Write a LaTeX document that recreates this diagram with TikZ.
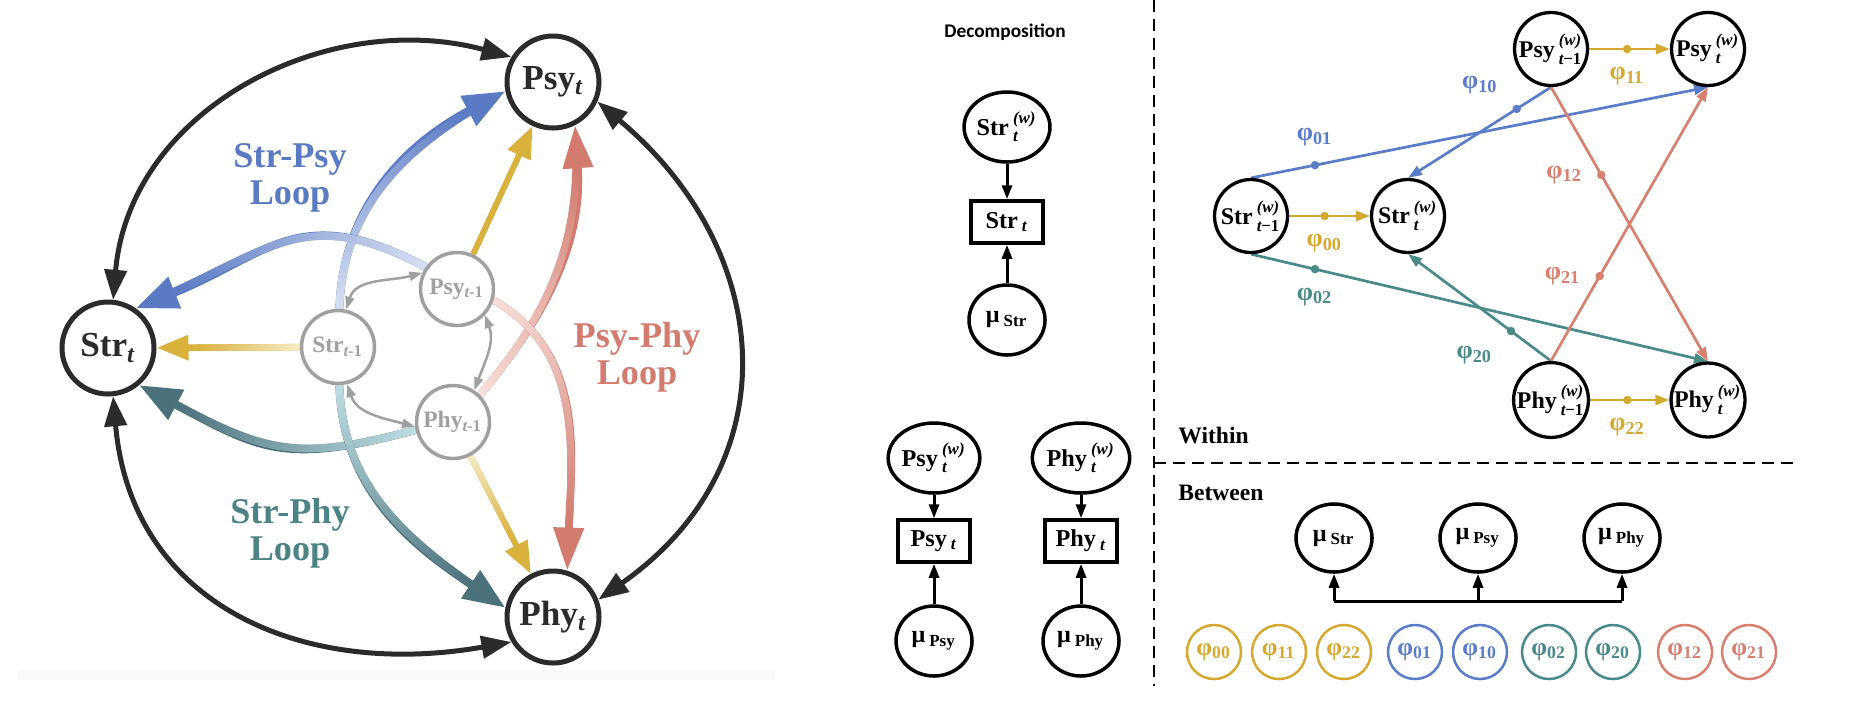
\documentclass[tikz,border=0pt]{standalone}
\usepackage{amsmath}
\usepackage{fontspec}
\setmainfont{Liberation Serif}
\newfontfamily\decofont{Carlito}
\usetikzlibrary{arrows.meta,shapes.geometric,decorations.markings}
\definecolor{LoopInk}{HTML}{2B2B2B}
\definecolor{LagGray}{HTML}{A0A0A0}
\definecolor{GoldC}{HTML}{D9B23E}
\definecolor{GoldL}{HTML}{F6EDC8}
\definecolor{BlueC}{HTML}{5A7AC3}
\definecolor{BlueL}{HTML}{D8E0F2}
\definecolor{TealC}{HTML}{4B717A}
\definecolor{TealL}{HTML}{BFDFE4}
\definecolor{TealT}{HTML}{4C8385}
\definecolor{RedC}{HTML}{D27B6E}
\definecolor{RedL}{HTML}{F7E1DD}
\definecolor{GoldW}{HTML}{D5A92F}
\definecolor{BlueW}{HTML}{5B7DC8}
\definecolor{TealW}{HTML}{4A8A88}
\definecolor{RedW}{HTML}{D8806F}
\pgfdeclarelayer{back}
\pgfsetlayers{back,main}

\begin{document}
\begin{tikzpicture}[x=0.1mm, y=0.1mm,
  bigvar/.style={circle, draw=LoopInk, line width=0.5mm, minimum size=9.2mm,
                 inner sep=0pt, fill=white, text=LoopInk,
                 font=\fontsize{10}{12}\selectfont\bfseries},
  lagvar/.style={circle, draw=LagGray, line width=0.35mm, minimum size=7.3mm,
                 inner sep=0pt, fill=white, text=LagGray,
                 font=\fontsize{6.7}{8}\selectfont\bfseries},
  looplab/.style={align=center, font=\fontsize{10.3}{10.5}\selectfont\bfseries},
  bigarc/.style={draw=LoopInk, line width=0.5mm,
                 {Triangle[length=3mm,width=2.2mm]}-{Triangle[length=3mm,width=2.2mm]}},
  lagarc/.style={draw=LagGray, line width=0.25mm,
                 {Triangle[length=1.3mm,width=0.9mm]}-{Triangle[length=1.3mm,width=0.9mm]}},
  loopfade/.style n args={4}{draw=#2, line width=#3, -{Triangle[#4]},
    postaction={decorate, decoration={markings,
      mark=between positions 0 and -4mm step 0.4pt with {%
        \pgfmathsetmacro\fadepct{min(100,100*\pgfkeysvalueof{/pgf/decoration/mark info/distance from start}/(\pgfdecoratedpathlength-11pt))}%
        \fill[#2!\fadepct!#1] (0,0) circle (#3/2);}}}},
  wvar/.style={circle, draw=black, line width=0.33mm, minimum size=7.3mm,
               inner sep=0pt, fill=white, font=\fontsize{6.8}{8}\selectfont\bfseries},
  wlink/.style={line width=0.27mm, -{Triangle[length=1.4mm,width=1mm]}},
  wdot/.style={circle, fill, inner sep=0pt, minimum size=0.85mm},
  philab/.style={font=\fontsize{7.4}{8}\selectfont\bfseries},
  decvar/.style={ellipse, draw=black, line width=0.35mm, minimum width=7.6mm,
                 minimum height=7mm, inner sep=0pt, fill=white,
                 font=\fontsize{6.9}{8}\selectfont\bfseries},
  obsbox/.style={rectangle, draw=black, line width=0.35mm, minimum width=7.2mm,
                 minimum height=4.2mm, inner sep=0pt, fill=white,
                 font=\fontsize{6.9}{8}\selectfont\bfseries},
  declink/.style={line width=0.3mm, -{Triangle[length=1.4mm,width=1mm]}},
  phicirc/.style={circle, line width=0.25mm, minimum size=5.4mm, inner sep=0pt,
                  font=\fontsize{7.2}{8}\selectfont\bfseries},
  panellab/.style={anchor=west, font=\fontsize{6.7}{8}\selectfont\bfseries},
  sepline/.style={line width=0.25mm, dash pattern=on 1.2mm off 0.7mm}
]
\useasboundingbox (0,0) rectangle (1870,708);
\fill[gray!5] (18,28) rectangle (775,38);

% cross-lagged loops
\node[bigvar] (StrT) at (108,360) {Str$_{\textit{t}}$};
\node[bigvar] (PsyT) at (553,626) {Psy$_{\textit{t}}$};
\node[bigvar] (PhyT) at (553,91) {Phy$_{\textit{t}}$};
\node[lagvar] (StrL) at (338,361) {Str$_{\textit{t}\text{-1}}$};
\node[lagvar] (PsyL) at (457,419) {Psy$_{\textit{t}\text{-1}}$};
\node[lagvar] (PhyL) at (453,286) {Phy$_{\textit{t}\text{-1}}$};

\node[looplab, text=BlueC] (labSP) at (290,530) {Str-Psy\\Loop};
\node[looplab, text=TealT] (labSH) at (290,175) {Str-Phy\\Loop};
\node[looplab, text=RedC] (labPH) at (637,351) {Psy-Phy\\Loop};

\begin{pgfonlayer}{back}
\draw[bigarc] (StrT.84) to[out=85, in=165, looseness=1.05] (PsyT.149);
\draw[bigarc] (PsyT.-24) to[out=-40, in=35, looseness=1.2] (PhyT.21);
\draw[bigarc] (StrT.-84) to[out=-85, in=190, looseness=1.15] (PhyT.211);
\draw[loopfade={BlueL}{BlueC}{0.8mm}{length=4.2mm,width=3.2mm}]
  (StrL.88) to[out=88, in=208] (PsyT.191);
\draw[loopfade={BlueL}{BlueC}{0.8mm}{length=4.2mm,width=3.2mm}]
  (PsyL.145) to[out=152, in=22, looseness=1.25] (StrT.55);
\draw[loopfade={TealL}{TealC}{0.8mm}{length=4.2mm,width=3.2mm}]
  (PhyL.192) to[out=195, in=-28, looseness=1.25] (StrT.-50);
\draw[loopfade={TealL}{TealC}{0.8mm}{length=4.2mm,width=3.2mm}]
  (StrL.-88) to[out=-88, in=146] (PhyT.169);
\draw[loopfade={RedL}{RedC}{0.75mm}{length=4.3mm,width=2.9mm}]
  (PhyL.45) to[out=50, in=-86] (PsyT.-63);
\draw[loopfade={RedL}{RedC}{0.75mm}{length=4.3mm,width=2.9mm}]
  (PsyL.-17) to[out=-30, in=88] (PhyT.73);
\draw[loopfade={GoldL}{GoldC}{0.65mm}{length=3.2mm,width=2.4mm}] (StrL) -- (StrT);
\draw[loopfade={GoldL}{GoldC}{0.6mm}{length=3.2mm,width=2.4mm}] (PhyL) -- (PhyT);
\draw[draw=GoldC, line width=0.6mm, -{Triangle[length=3.2mm,width=2.4mm]}] (PsyL) -- (PsyT);
\draw[lagarc] (StrL.78) to[out=72, in=195] (PsyL.155);
\draw[lagarc] (StrL.-76) to[out=-72, in=165] (PhyL.187);
\draw[lagarc] (PsyL.-43) to[out=-70, in=70] (PhyL.56);
\end{pgfonlayer}

% decomposition
\node[font=\decofont\fontsize{5.5}{6}\selectfont\bfseries] (dectitle) at (1005,676) {Decomposition};
\node[decvar] (dS) at (1007,581) {Str\,$^{\textit{(w)}}_{\textit{t}}$};
\node[obsbox] (oS) at (1007,486) {Str\,$_{\textit{t}}$};
\node[decvar] (mS) at (1007,388) {μ\,$_{\text{Str}}$};
\node[decvar] (dP) at (934,250) {Psy\,$^{\textit{(w)}}_{\textit{t}}$};
\node[obsbox] (oP) at (934,167) {Psy\,$_{\textit{t}}$};
\node[decvar] (mP) at (934,67) {μ\,$_{\text{Psy}}$};
\node[decvar] (dH) at (1081,250) {Phy\,$^{\textit{(w)}}_{\textit{t}}$};
\node[obsbox] (oH) at (1081,167) {Phy\,$_{\textit{t}}$};
\node[decvar] (mH) at (1081,67) {μ\,$_{\text{Phy}}$};
\foreach \v in {S,P,H} {
  \draw[declink] (d\v) -- (o\v);
  \draw[declink] (m\v) -- (o\v);
}

\draw[sepline] (1154,708) -- (1154,22);
\draw[sepline] (1154,245) -- (1795,245);

% within
\node[panellab] (within) at (1166,273) {Within};
\node[wvar] (SL) at (1251,492) {Str\,$^{\textit{(w)}}_{\textit{t}\text{−1}}$};
\node[wvar] (ST) at (1408,492) {Str\,$^{\textit{(w)}}_{\textit{t}}$};
\node[wvar] (PL) at (1551,659) {Psy\,$^{\textit{(w)}}_{\textit{t}\text{−1}}$};
\node[wvar] (PT) at (1708,659) {Psy\,$^{\textit{(w)}}_{\textit{t}}$};
\node[wvar] (HL) at (1551,308) {Phy\,$^{\textit{(w)}}_{\textit{t}\text{−1}}$};
\node[wvar] (HT) at (1708,308) {Phy\,$^{\textit{(w)}}_{\textit{t}}$};

\begin{pgfonlayer}{back}
\draw[wlink, GoldW] (SL) -- node[wdot, pos=.44, label={[philab, text=GoldW]below:φ$_{\text{00}}$}] {} (ST);
\draw[wlink, GoldW] (PL) -- node[wdot, pos=.47, label={[philab, text=GoldW]below:φ$_{\text{11}}$}] {} (PT);
\draw[wlink, GoldW] (HL) -- node[wdot, pos=.47, label={[philab, text=GoldW]below:φ$_{\text{22}}$}] {} (HT);
\draw[wlink, BlueW] (SL.north) -- node[wdot, pos=.14, label={[philab, text=BlueW]above:φ$_{\text{01}}$}] {} (PT.south);
\draw[wlink, BlueW] (PL.south) -- node[wdot, pos=.24, label={[philab, text=BlueW]165:φ$_{\text{10}}$}] {} (ST.north);
\draw[wlink, TealW] (SL.south) -- node[wdot, pos=.14, label={[philab, text=TealW]below:φ$_{\text{02}}$}] {} (HT.north);
\draw[wlink, TealW] (HL.north) -- node[wdot, pos=.28, label={[philab, text=TealW]205:φ$_{\text{20}}$}] {} (ST.south);
\draw[wlink, RedW] (PL.south) -- node[wdot, pos=.32, label={[philab, text=RedW]left:φ$_{\text{12}}$}] {} (HT.north);
\draw[wlink, RedW] (HL.north) -- node[wdot, pos=.31, label={[philab, text=RedW]left:φ$_{\text{21}}$}] {} (PT.south);
\end{pgfonlayer}

% between
\node[panellab] (between) at (1166,215) {Between};
\node[decvar, minimum height=6.8mm] (bS) at (1334,170) {μ\,$_{\text{Str}}$};
\node[decvar, minimum height=6.8mm] (bP) at (1478,170) {μ\,$_{\text{Psy}}$};
\node[decvar, minimum height=6.8mm] (bH) at (1622,170) {μ\,$_{\text{Phy}}$};
\coordinate (bar) at (1478,107);
\draw[line width=0.3mm] (bar -| bS) -- (bar -| bH);
\foreach \m in {bS,bP,bH}
  \draw[declink] (bar -| \m) -- (\m.south);
\foreach \idx/\xx/\col in {00/1214/GoldW, 11/1279/GoldW, 22/1344/GoldW,
    01/1415/BlueW, 10/1480/BlueW, 02/1549/TealW, 20/1613/TealW,
    12/1685/RedW, 21/1749/RedW}
  \node[phicirc, draw=\col, text=\col] (c\idx) at (\xx,56) {φ$_{\text{\idx}}$};
\end{tikzpicture}
\end{document}
